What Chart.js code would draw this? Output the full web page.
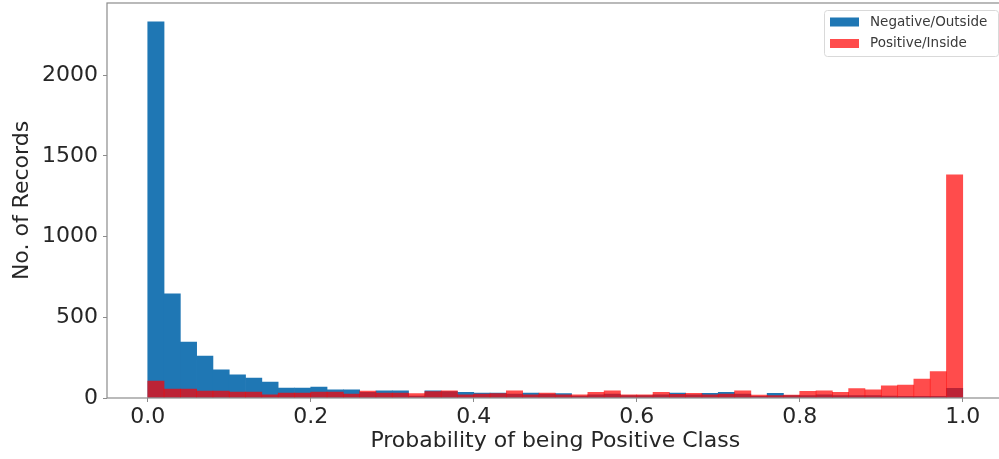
<!DOCTYPE html>
<html>
<head>
<meta charset="utf-8">
<script src="https://cdn.jsdelivr.net/npm/chart.js@4.4.1/dist/chart.umd.min.js"></script>
<style>
  html, body { margin: 0; padding: 0; background: #fff; overflow: hidden; }
  #wrap { width: 999px; height: 459px; overflow: hidden; }
  canvas { display: block; }
</style>
</head>
<body>
<div id="wrap"><canvas id="histChart" width="1010" height="459"></canvas></div>
<script>
// 50 bins of width 0.02 over [0, 1]
const binWidth = 0.02;
const negativeCounts = [
  2330, 645, 347, 260, 174, 143, 124, 99, 62, 62,
  68, 50, 50, 35, 45, 45, 12, 45, 40, 35,
  30, 30, 25, 30, 25, 28, 12, 20, 25, 15,
  15, 20, 30, 20, 29, 35, 25, 10, 29, 15,
  15, 20, 15, 15, 15, 12, 10, 10, 10, 60
];
const positiveCounts = [
  105, 55, 55, 43, 43, 37, 37, 20, 30, 30,
  37, 37, 25, 43, 30, 30, 28, 40, 45, 20,
  25, 27, 45, 20, 30, 20, 20, 35, 45, 20,
  20, 35, 22, 29, 20, 25, 45, 18, 15, 18,
  41, 45, 35, 59, 51, 76, 80, 117, 164, 1383
];
const xTicks = [0, 0.2, 0.4, 0.6, 0.8, 1.0];
const yTicks = [0, 500, 1000, 1500, 2000];

const binCenters = negativeCounts.map((_, i) => +(binWidth * i + binWidth / 2).toFixed(3));
const toPoints = counts => counts.map((c, i) => ({ x: binCenters[i], y: c }));

const spineColor = '#8c8c8c';
const textColor = '#262626';
const fontFamily = "'DejaVu Sans', sans-serif";

// box around the axes, like matplotlib spines
const spinesPlugin = {
  id: 'spines',
  afterDatasetsDraw(chart) {
    const { ctx, chartArea: a } = chart;
    ctx.save();
    ctx.strokeStyle = spineColor;
    ctx.lineWidth = 1.2;
    ctx.strokeRect(a.left, a.top, a.right - a.left, a.bottom - a.top);
    ctx.restore();
  }
};

// legend in the upper right corner inside the axes
const innerLegendPlugin = {
  id: 'innerLegend',
  afterDraw(chart) {
    const { ctx, chartArea: a } = chart;
    const boxRight = 998, boxTop = a.top + 7, boxLeft = 824, boxH = 46;
    ctx.save();
    ctx.fillStyle = 'rgba(255,255,255,0.85)';
    ctx.strokeStyle = '#d9d9d9';
    ctx.lineWidth = 1;
    ctx.beginPath();
    ctx.roundRect(boxLeft + 0.5, boxTop + 0.5, boxRight - boxLeft, boxH, 3);
    ctx.fill();
    ctx.stroke();
    ctx.font = '13.5px ' + fontFamily;
    ctx.textBaseline = 'middle';
    chart.data.datasets.forEach((ds, i) => {
      const y = boxTop + 12 + i * 21.5;
      ctx.fillStyle = ds.backgroundColor;
      ctx.fillRect(830, y - 4.5, 29, 9);
      ctx.fillStyle = '#3a3a3a';
      ctx.fillText(ds.label, 870, y);
    });
    ctx.restore();
  }
};

const ctx = document.getElementById('histChart').getContext('2d');
const histChart = new Chart(ctx, {
  type: 'bar',
  data: {
    datasets: [
      {
        label: 'Negative/Outside',
        data: toPoints(negativeCounts),
        backgroundColor: '#1f77b4',
        borderWidth: 0,
        order: 1
      },
      {
        label: 'Positive/Inside',
        data: toPoints(positiveCounts),
        backgroundColor: 'rgba(255, 0, 0, 0.7)',
        borderWidth: 0,
        order: 0
      }
    ]
  },
  options: {
    responsive: false,
    animation: false,
    devicePixelRatio: 1,
    layout: { padding: { top: 3, right: 6.5, left: 0, bottom: 0 } },
    datasets: {
      bar: { grouped: false, barPercentage: 1.0, categoryPercentage: 1.0 }
    },
    plugins: {
      legend: { display: false },
      tooltip: { enabled: false }
    },
    scales: {
      x: {
        type: 'linear',
        min: -0.05,
        max: 1.05,
        offset: false,
        afterFit(scale) {
          scale.height = 61;
          scale.paddingLeft = 0;
          scale.paddingRight = 0;
        },
        afterBuildTicks(scale) { scale.ticks = xTicks.map(v => ({ value: v })); },
        ticks: {
          color: textColor,
          font: { family: fontFamily, size: 22 },
          padding: 2,
          maxRotation: 0,
          callback: v => v.toFixed(1)
        },
        grid: { display: true, drawOnChartArea: false, drawTicks: true, tickLength: 4, color: spineColor, offset: false },
        border: { display: false },
        title: {
          display: true,
          text: 'Probability of being Positive Class',
          color: textColor,
          font: { family: fontFamily, size: 22 },
          padding: { top: 0, bottom: 5 }
        }
      },
      y: {
        min: 0,
        max: 2447,
        afterFit(scale) {
          scale.width = 107;
          scale.paddingTop = 0;
          scale.paddingBottom = 0;
        },
        afterBuildTicks(scale) { scale.ticks = yTicks.map(v => ({ value: v })); },
        ticks: {
          color: textColor,
          font: { family: fontFamily, size: 22 },
          padding: 5,
          callback: v => String(v)
        },
        grid: { display: true, drawOnChartArea: false, drawTicks: true, tickLength: 4, color: spineColor },
        border: { display: false },
        title: {
          display: true,
          text: 'No. of Records',
          color: textColor,
          font: { family: fontFamily, size: 22 },
          padding: { top: 9, bottom: 0 }
        }
      }
    }
  },
  plugins: [spinesPlugin, innerLegendPlugin]
});
</script>
</body>
</html>
